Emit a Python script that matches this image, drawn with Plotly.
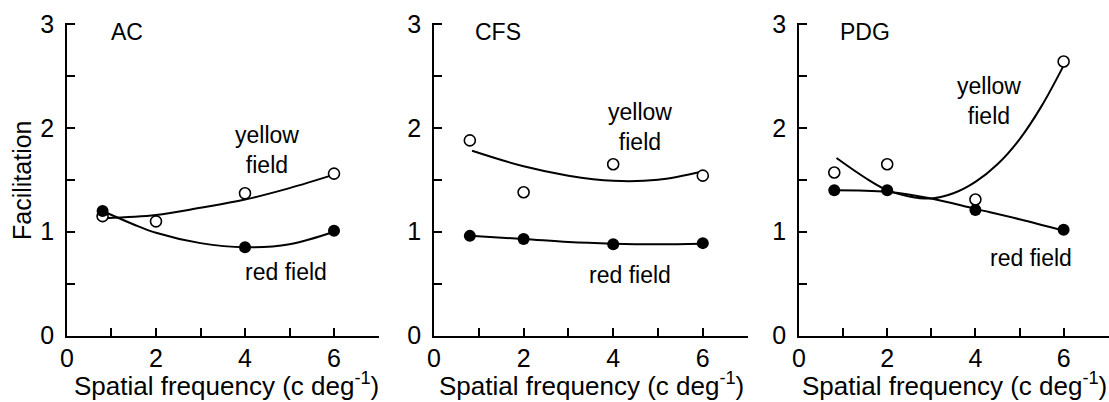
import plotly.graph_objects as go

# ---------------- data ----------------
PANELS = ["AC", "CFS", "PDG"]

# measured points (spatial frequency, facilitation)
AC_YELLOW_X = [0.8, 2, 4, 6]
AC_YELLOW_Y = [1.15, 1.10, 1.37, 1.56]
AC_RED_X = [0.8, 4, 6]
AC_RED_Y = [1.20, 0.85, 1.01]

CFS_YELLOW_X = [0.8, 2, 4, 6]
CFS_YELLOW_Y = [1.88, 1.38, 1.65, 1.54]
CFS_RED_X = [0.8, 2, 4, 6]
CFS_RED_Y = [0.96, 0.93, 0.88, 0.89]

PDG_YELLOW_X = [0.8, 2, 4, 6]
PDG_YELLOW_Y = [1.57, 1.65, 1.31, 2.64]
PDG_RED_X = [0.8, 2, 4, 6]
PDG_RED_Y = [1.40, 1.40, 1.21, 1.02]

# fitted curves
AC_YFIT_X = [0.85, 2, 3, 4, 5, 6]
AC_YFIT_Y = [1.13, 1.16, 1.23, 1.31, 1.42, 1.55]
AC_RFIT_X = [0.85, 1.5, 2, 3, 4, 5, 6]
AC_RFIT_Y = [1.19, 1.07, 0.99, 0.89, 0.85, 0.88, 1.00]

CFS_YFIT_X = [0.85, 2, 3, 4, 5, 6]
CFS_YFIT_Y = [1.78, 1.63, 1.54, 1.49, 1.50, 1.58]
CFS_RFIT_X = [0.8, 2, 3, 4, 5, 6]
CFS_RFIT_Y = [0.96, 0.93, 0.90, 0.885, 0.88, 0.885]

PDG_YFIT_X = [0.85, 1.5, 2, 2.5, 3, 3.5, 4, 4.5, 5, 5.5, 6]
PDG_YFIT_Y = [1.71, 1.52, 1.40, 1.34, 1.32, 1.37, 1.48, 1.65, 1.89, 2.21, 2.60]
PDG_RFIT_X = [0.8, 2, 3, 4, 5, 6]
PDG_RFIT_Y = [1.40, 1.385, 1.32, 1.22, 1.12, 1.01]

X_TITLE = "Spatial frequency (c deg<sup>-1</sup>)"
Y_TITLE = "Facilitation"

# label positions (data coords)
YELLOW_LABEL_POS = [(4.49, 1.79), (4.6, 2.01), (4.3, 2.26)]
RED_LABEL_POS = [(4.92, 0.61), (4.37, 0.58), (5.25, 0.75)]

# ---------------- figure ----------------
FONT = "Liberation Sans, Arial, Helvetica, sans-serif"
W, H = 1109, 402

panel_data = [
    (AC_YELLOW_X, AC_YELLOW_Y, AC_RED_X, AC_RED_Y, AC_YFIT_X, AC_YFIT_Y, AC_RFIT_X, AC_RFIT_Y),
    (CFS_YELLOW_X, CFS_YELLOW_Y, CFS_RED_X, CFS_RED_Y, CFS_YFIT_X, CFS_YFIT_Y, CFS_RFIT_X, CFS_RFIT_Y),
    (PDG_YELLOW_X, PDG_YELLOW_Y, PDG_RED_X, PDG_RED_Y, PDG_YFIT_X, PDG_YFIT_Y, PDG_RFIT_X, PDG_RFIT_Y),
]

x_domains = [[0.06041, 0.34211], [0.39134, 0.67493], [0.72047, 0.99964]]
y_domain = [0.16542, 0.94254]
x_title_px = [226, 591, 954]

fig = go.Figure()
layout = dict(
    width=W, height=H,
    margin=dict(l=0, r=0, t=0, b=0, pad=0, autoexpand=False),
    paper_bgcolor="white", plot_bgcolor="white",
    showlegend=False,
    font=dict(family=FONT, color="black"),
)

annotations = []
for i, (name, d) in enumerate(zip(PANELS, panel_data)):
    yx, yy, rx, ry, yfx, yfy, rfx, rfy = d
    sfx = "" if i == 0 else str(i + 1)
    xa, ya = "x" + sfx, "y" + sfx
    line = dict(color="black", width=2, shape="spline", smoothing=1.0)
    fig.add_trace(go.Scatter(x=yfx, y=yfy, mode="lines", line=line, xaxis=xa, yaxis=ya, hoverinfo="skip"))
    fig.add_trace(go.Scatter(x=rfx, y=rfy, mode="lines", line=line, xaxis=xa, yaxis=ya, hoverinfo="skip"))
    fig.add_trace(go.Scatter(x=yx, y=yy, mode="markers", xaxis=xa, yaxis=ya,
                             marker=dict(symbol="circle", size=11, color="white",
                                         line=dict(color="black", width=1.6)),
                             name="yellow field"))
    fig.add_trace(go.Scatter(x=rx, y=ry, mode="markers", xaxis=xa, yaxis=ya,
                             marker=dict(symbol="circle", size=12, color="black",
                                         line=dict(color="black", width=0)),
                             name="red field"))

    axis_common = dict(
        showline=True, linecolor="black", linewidth=1.6,
        ticks="inside", ticklen=8, tickwidth=1.5, tickcolor="black",
        showgrid=False, zeroline=False, fixedrange=True, automargin=False,
        tickfont=dict(family=FONT, size=25, color="black"),
    )
    layout["xaxis" + sfx] = dict(
        axis_common, domain=x_domains[i], range=[0, 7.02], anchor=ya,
        tick0=0, dtick=2,
        minor=dict(ticks="inside", dtick=1, tick0=0, ticklen=8, tickwidth=1.5, tickcolor="black"),
    )
    layout["yaxis" + sfx] = dict(
        axis_common, domain=y_domain, range=[0, 3.01], anchor=xa,
        tick0=0, dtick=1, ticklabelstandoff=6,
        minor=dict(ticks="inside", dtick=0.5, tick0=0, ticklen=8, tickwidth=1.5, tickcolor="black"),
    )

    xref, yref = xa, ya
    annotations.append(dict(x=0.95 if i == 0 else 0.88, y=2.92, xref=xref, yref=yref, text=name,
                            showarrow=False, xanchor="left", yanchor="middle",
                            font=dict(family=FONT, size=23, color="black")))
    lx, ly = YELLOW_LABEL_POS[i]
    annotations.append(dict(x=lx, y=ly, xref=xref, yref=yref, text="yellow<br>field",
                            showarrow=False, xanchor="center", yanchor="middle", align="center",
                            font=dict(family=FONT, size=23, color="black")))
    lx, ly = RED_LABEL_POS[i]
    annotations.append(dict(x=lx, y=ly, xref=xref, yref=yref, text="red field",
                            showarrow=False, xanchor="center", yanchor="middle",
                            font=dict(family=FONT, size=23, color="black")))
    # x-axis title
    annotations.append(dict(x=x_title_px[i] / W, y=1 - 384 / H, xref="paper", yref="paper", text=X_TITLE,
                            showarrow=False, xanchor="center", yanchor="middle",
                            font=dict(family=FONT, size=26, color="black")))

annotations.append(dict(x=22 / W, y=1 - 180 / H, xref="paper", yref="paper", text=Y_TITLE,
                        textangle=-90, showarrow=False, xanchor="center", yanchor="middle",
                        font=dict(family=FONT, size=25, color="black")))
layout["annotations"] = annotations

fig.update_layout(**layout)
fig.write_html(
    "out.html",
    config={"displayModeBar": False, "staticPlot": False},
    post_script="document.body.style.margin='0';document.body.style.padding='0';"
                "document.documentElement.style.overflow='hidden';",
)
